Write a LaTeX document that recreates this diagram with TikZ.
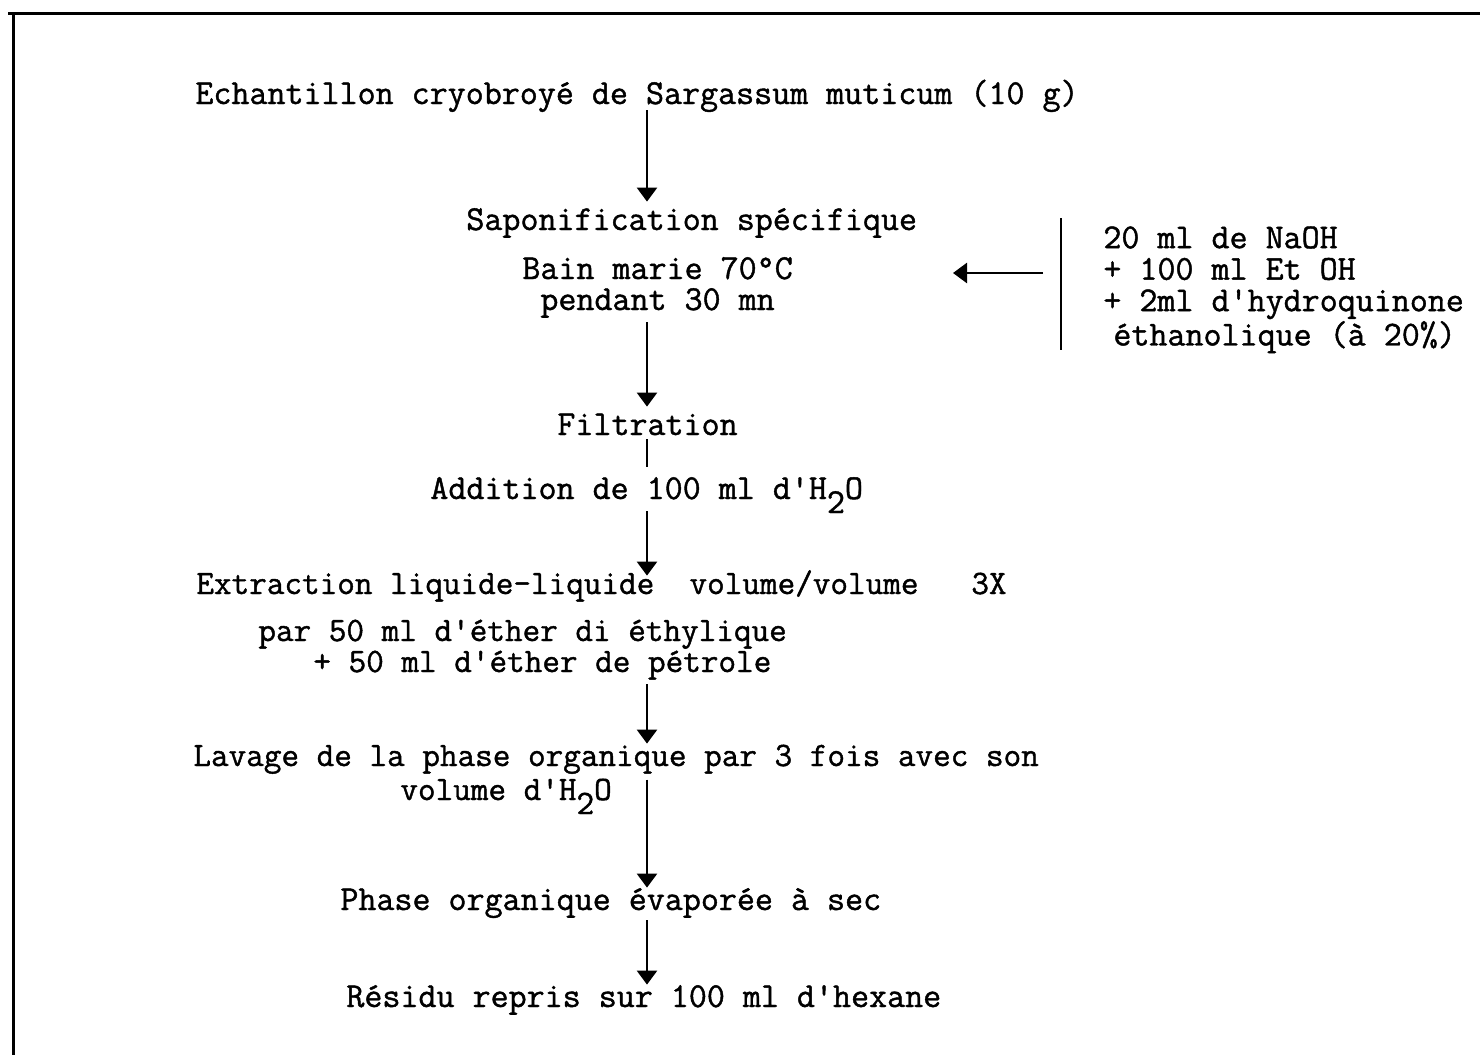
\documentclass[tikz,border=0pt]{standalone}
\usepackage{fontspec}
\newfontfamily\machine[FakeBold=1.2]{Latin Modern Mono}
\usetikzlibrary{arrows.meta}
\tikzset{
  etape/.style={font=\machine\fontsize{#1}{15.75pt}\selectfont, inner sep=0pt,
    text height=10pt, text depth=3pt, anchor=base west},
  etape/.default=17.5pt,
  reactif/.style={font=\machine\fontsize{17.5pt}{15.75pt}\selectfont, inner sep=0pt,
    align=left, anchor=north west},
  fleche/.style={-{Triangle[length=7pt,width=10pt]}, line width=1.3pt},
  trait/.style={line width=1.3pt},
  cadre/.style={line width=1.5pt},
}
\newcommand{\indice}[1]{\raisebox{-7pt}{#1}}
\begin{document}
\begin{tikzpicture}[x=0.5pt,y=-0.5pt]
  \useasboundingbox (0,0) rectangle (1480,1055);
  \draw[cadre] (8,13) -- (1480,13);
  \draw[cadre] (13,13) -- (13,1055);
  \coordinate (col) at (647,0);
  \node[etape] (ech)   at (195,104) {Echantillon cryobroyé de Sargassum muticum (10 g)};
  \node[etape] (sapo)  at (466,230) {Saponification spécifique};
  \node[etape] (bain)  at (522,279) {Bain marie 70°C};
  \node[etape] (pend)  at (540,310) {pendant 30 mn};
  \node[reactif] (reac) at (1103,226) {20 ml de NaOH\\+ 100 ml Et OH\\+ 2ml d'hydroquinone\\\hspace*{5pt}éthanolique (à 20\%)};
  \node[etape] (filt)  at (557,435) {Filtration};
  \node[etape] (addi)  at (430,499) {Addition de 100 ml d'H\indice{2}O};
  \node[etape=17.1pt] (extr)  at (196,594) {Extraction liquide-liquide\ \ volume/volume\ \ \ 3X};
  \node[etape=17.1pt] (par)   at (258,641) {par 50 ml d'éther di éthylique};
  \node[etape=17.1pt] (plus)  at (313,672) {+ 50 ml d'éther de pétrole};
  \node[etape=17.1pt] (lav)   at (193,766) {Lavage de la phase organique par 3 fois avec son};
  \node[etape=17.1pt] (vol)   at (400,800) {volume d'H\indice{2}O};
  \node[etape] (phase) at (340,910) {Phase organique évaporée à sec};
  \node[etape] (resid) at (346,1007) {Résidu repris sur 100 ml d'hexane};
  \coordinate (barhaut) at (1061,218);
  \coordinate (barbas)  at (1061,350);
  \coordinate (dep)     at (1043,273);
  \coordinate (pointe)  at (953,273);
  \draw[trait] (barhaut) -- (barbas);
  \draw[fleche] (dep) -- (pointe);
  \draw[fleche, shorten >=4pt] (ech.south -| col) -- (sapo.north -| col);
  \draw[fleche, shorten <=3pt, shorten >=4pt] (pend.south -| col) -- (filt.north -| col);
  \draw[trait, shorten <=-1pt, shorten >=6pt] (filt.south -| col) -- (addi.north -| col);
  \draw[fleche, shorten <=3pt, shorten >=-1pt] (addi.south -| col) -- (extr.north -| col);
  \draw[fleche, shorten <=3pt, shorten >=1pt] (plus.south -| col) -- (lav.north -| col);
  \draw[fleche, shorten >=1pt] (vol.north -| col) -- (phase.north -| col);
  \draw[fleche, shorten <=2pt, shorten >=1pt] (phase.south -| col) -- (resid.north -| col);
\end{tikzpicture}
\end{document}
